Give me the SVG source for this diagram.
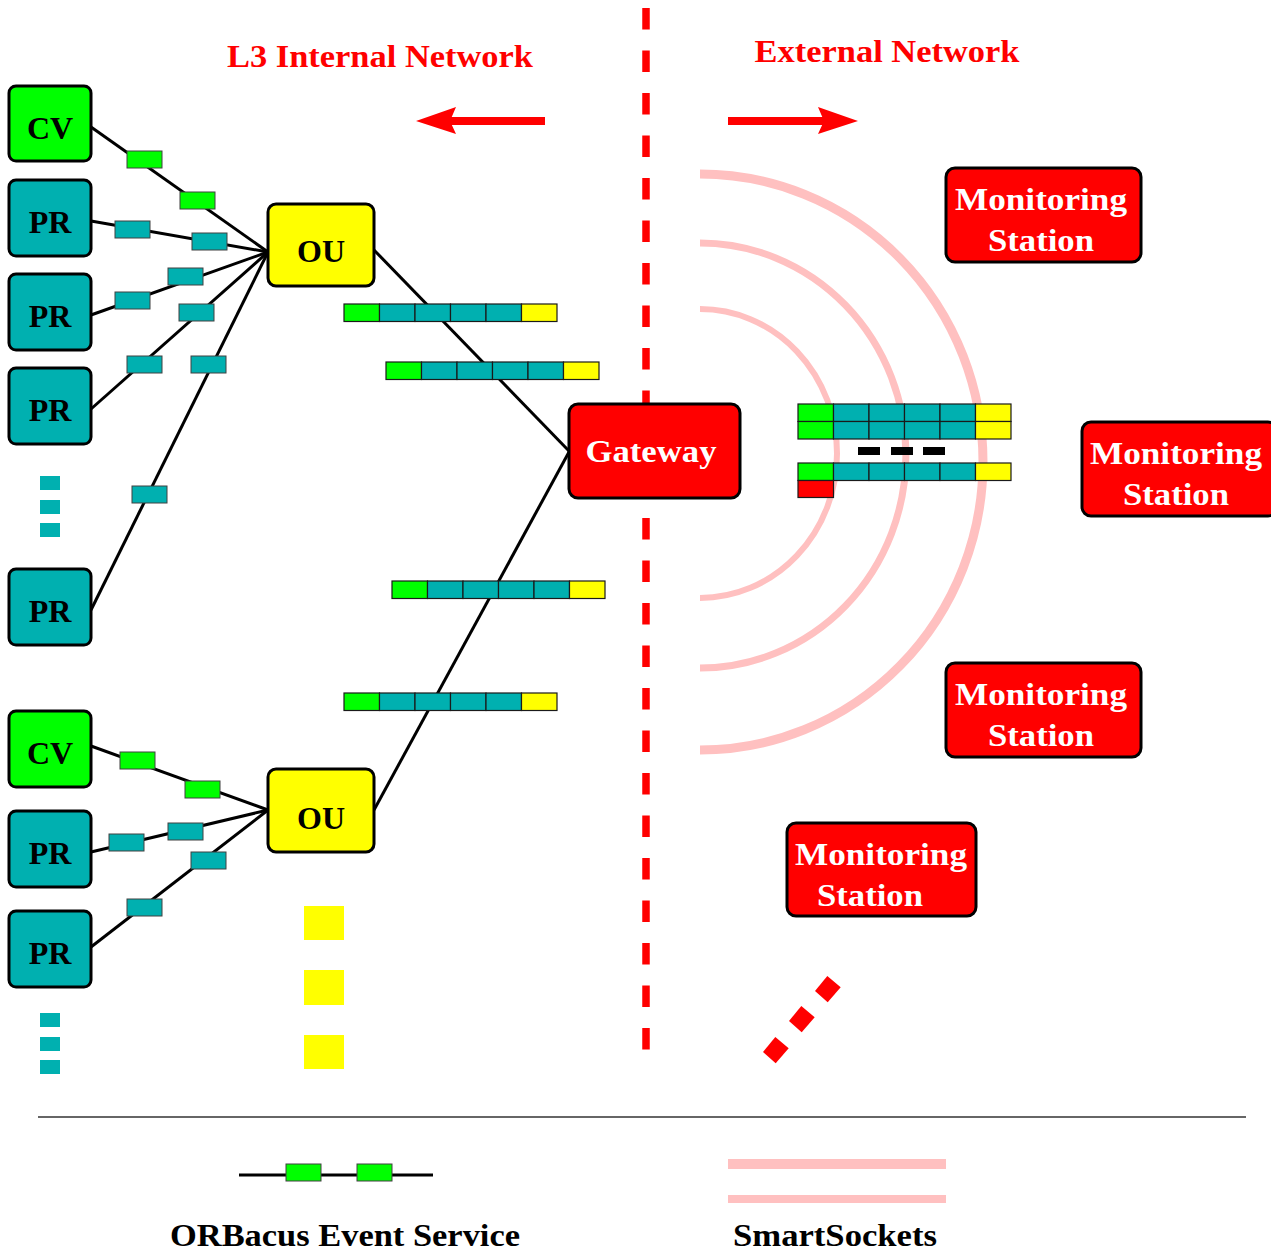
<svg xmlns="http://www.w3.org/2000/svg" xmlns:xlink="http://www.w3.org/1999/xlink" width="1271" height="1252" viewBox="0 0 1271 1252">
<style>
.box{stroke:#000;stroke-width:3}
.lbl{font-family:"Liberation Serif","Times New Roman",serif;font-weight:bold;font-size:32px;text-anchor:middle}
.wl{fill:#fff}
.bl{fill:#000}
.rl{fill:#ff0000}
.pk{stroke:#404040;stroke-width:1}
.cell{stroke:#1a1a1a;stroke-width:1.2}
.g{fill:#00ff00}.t{fill:#00b0b0}.y{fill:#ffff00}.r{fill:#ff0000}
.conn line{stroke:#000;stroke-width:3}
.arc{fill:none;stroke:#ffc0c0}
</style>
<defs>
<g id="bar">
<rect x="0" y="0" width="35.5" height="17.5" class="g cell"/>
<rect x="35.5" y="0" width="35.5" height="17.5" class="t cell"/>
<rect x="71" y="0" width="35.5" height="17.5" class="t cell"/>
<rect x="106.5" y="0" width="35.5" height="17.5" class="t cell"/>
<rect x="142" y="0" width="35.5" height="17.5" class="t cell"/>
<rect x="177.5" y="0" width="35.5" height="17.5" class="y cell"/>
</g>
<rect id="pg" width="35" height="17" class="g pk"/>
<rect id="pt" width="35" height="17" class="t pk"/>
<polygon id="dia" points="827.3,976 840.7,987.3 827.7,1002.3 815,991" fill="#ff0000"/>
</defs>
<rect width="1271" height="1252" fill="#fff"/>

<!-- SmartSockets arcs -->
<g id="arcs">
<path class="arc" stroke-width="9" d="M700,174 A283,288 0 0 1 700,750"/>
<path class="arc" stroke-width="7" d="M700,243 A206,212.5 0 0 1 700,668"/>
<path class="arc" stroke-width="6" d="M700,309 A137,144.5 0 0 1 700,598"/>
</g>

<!-- boundary -->
<line x1="646" y1="8" x2="646" y2="1050" stroke="#ff0000" stroke-width="7.5" stroke-dasharray="21.5 21"/>

<!-- titles and arrows -->
<text class="lbl rl" x="380" y="67" font-size="30" textLength="306" lengthAdjust="spacingAndGlyphs">L3 Internal Network</text>
<text class="lbl rl" x="887" y="62" font-size="30" textLength="265" lengthAdjust="spacingAndGlyphs">External Network</text>
<g id="arrows">
<line x1="545" y1="121" x2="448" y2="121" stroke="#ff0000" stroke-width="8"/>
<polygon points="416,121 456,107 450,121 456,134" fill="#ff0000"/>
<line x1="728" y1="121" x2="826" y2="121" stroke="#ff0000" stroke-width="8"/>
<polygon points="858,121 818,107 824,121 818,134" fill="#ff0000"/>
</g>

<!-- connectors -->
<g id="connectors" class="conn">
<line x1="91" y1="127" x2="268" y2="252"/>
<line x1="91" y1="221" x2="268" y2="252"/>
<line x1="91" y1="315" x2="268" y2="252"/>
<line x1="91" y1="409" x2="268" y2="252"/>
<line x1="91" y1="610" x2="268" y2="252"/>
<line x1="91" y1="746" x2="268" y2="810"/>
<line x1="91" y1="852" x2="268" y2="810"/>
<line x1="91" y1="947" x2="268" y2="810"/>
<line x1="374" y1="250" x2="569" y2="451"/>
<line x1="569" y1="452" x2="374" y2="810"/>
</g>

<!-- packets on connectors -->
<g id="packets">
<use xlink:href="#pg" x="127" y="151"/>
<use xlink:href="#pg" x="180" y="192"/>
<use xlink:href="#pt" x="115" y="221"/>
<use xlink:href="#pt" x="192" y="233"/>
<use xlink:href="#pt" x="115" y="292"/>
<use xlink:href="#pt" x="168" y="268"/>
<use xlink:href="#pt" x="179" y="304"/>
<use xlink:href="#pt" x="127" y="356"/>
<use xlink:href="#pt" x="191" y="356"/>
<use xlink:href="#pt" x="132" y="486"/>
<use xlink:href="#pg" x="120" y="752"/>
<use xlink:href="#pg" x="185" y="781"/>
<use xlink:href="#pt" x="109" y="834"/>
<use xlink:href="#pt" x="168" y="823"/>
<use xlink:href="#pt" x="127" y="899"/>
<use xlink:href="#pt" x="191" y="852"/>
</g>

<!-- message bars -->
<g id="bars">
<use xlink:href="#bar" x="344" y="304"/>
<use xlink:href="#bar" x="386" y="362"/>
<use xlink:href="#bar" x="392" y="581"/>
<use xlink:href="#bar" x="344" y="693"/>
<use xlink:href="#bar" x="798" y="404"/>
<use xlink:href="#bar" x="798" y="421.5"/>
<rect x="858" y="447" width="22" height="8" fill="#000"/>
<rect x="891" y="447" width="22" height="8" fill="#000"/>
<rect x="923" y="447" width="22" height="8" fill="#000"/>
<use xlink:href="#bar" x="798" y="463"/>
<rect x="798" y="480.5" width="35.5" height="17" class="r cell"/>
</g>

<!-- nodes -->
<g id="cv1"><rect x="9" y="86" width="82" height="75" rx="7" class="box g"/><text class="lbl bl" x="50" y="139">CV</text></g>
<g id="pr1"><rect x="9" y="180" width="82" height="76" rx="7" class="box t"/><text class="lbl bl" x="50" y="233">PR</text></g>
<g id="pr2"><rect x="9" y="274" width="82" height="76" rx="7" class="box t"/><text class="lbl bl" x="50" y="327">PR</text></g>
<g id="pr3"><rect x="9" y="368" width="82" height="76" rx="7" class="box t"/><text class="lbl bl" x="50" y="421">PR</text></g>
<g id="pr4"><rect x="9" y="569" width="82" height="76" rx="7" class="box t"/><text class="lbl bl" x="50" y="622">PR</text></g>
<g id="cv2"><rect x="9" y="711" width="82" height="76" rx="7" class="box g"/><text class="lbl bl" x="50" y="764">CV</text></g>
<g id="pr5"><rect x="9" y="811" width="82" height="76" rx="7" class="box t"/><text class="lbl bl" x="50" y="864">PR</text></g>
<g id="pr6"><rect x="9" y="911" width="82" height="76" rx="7" class="box t"/><text class="lbl bl" x="50" y="964">PR</text></g>
<g id="ou1"><rect x="268" y="204" width="106" height="82" rx="8" class="box y"/><text class="lbl bl" x="321" y="262">OU</text></g>
<g id="ou2"><rect x="268" y="769" width="106" height="83" rx="8" class="box y"/><text class="lbl bl" x="321" y="829">OU</text></g>
<g id="gateway"><rect x="569" y="404" width="171" height="94" rx="9" class="box r"/><text class="lbl wl" x="651" y="462" textLength="131" lengthAdjust="spacingAndGlyphs">Gateway</text></g>
<g id="ms1"><rect x="946" y="168" width="195" height="94" rx="9" class="box r"/><text class="lbl wl" x="1041" y="210" textLength="172" lengthAdjust="spacingAndGlyphs">Monitoring</text><text class="lbl wl" x="1041" y="251" textLength="106" lengthAdjust="spacingAndGlyphs">Station</text></g>
<g id="ms2"><rect x="1082" y="422" width="195" height="94" rx="9" class="box r"/><text class="lbl wl" x="1176" y="464" textLength="172" lengthAdjust="spacingAndGlyphs">Monitoring</text><text class="lbl wl" x="1176" y="505" textLength="106" lengthAdjust="spacingAndGlyphs">Station</text></g>
<g id="ms3"><rect x="946" y="663" width="195" height="94" rx="9" class="box r"/><text class="lbl wl" x="1041" y="705" textLength="172" lengthAdjust="spacingAndGlyphs">Monitoring</text><text class="lbl wl" x="1041" y="746" textLength="106" lengthAdjust="spacingAndGlyphs">Station</text></g>
<g id="ms4"><rect x="787" y="823" width="189" height="93" rx="9" class="box r"/><text class="lbl wl" x="881" y="865" textLength="172" lengthAdjust="spacingAndGlyphs">Monitoring</text><text class="lbl wl" x="870" y="906" textLength="106" lengthAdjust="spacingAndGlyphs">Station</text></g>

<!-- ellipses -->
<g id="ellipsis">
<rect x="40" y="476" width="20" height="14" fill="#00b0b0"/>
<rect x="40" y="500" width="20" height="14" fill="#00b0b0"/>
<rect x="40" y="523" width="20" height="14" fill="#00b0b0"/>
<rect x="40" y="1013" width="20" height="14" fill="#00b0b0"/>
<rect x="40" y="1037" width="20" height="14" fill="#00b0b0"/>
<rect x="40" y="1060" width="20" height="14" fill="#00b0b0"/>
<rect x="304" y="906" width="40" height="34" fill="#ffff00"/>
<rect x="304" y="970" width="40" height="35" fill="#ffff00"/>
<rect x="304" y="1035" width="40" height="34" fill="#ffff00"/>
<use xlink:href="#dia"/>
<use xlink:href="#dia" x="-26" y="30"/>
<use xlink:href="#dia" x="-52" y="61"/>
</g>

<!-- legend -->
<g id="legend">
<line x1="38" y1="1117" x2="1246" y2="1117" stroke="#333" stroke-width="1.5"/>
<line x1="239" y1="1175" x2="433" y2="1175" stroke="#000" stroke-width="3"/>
<use xlink:href="#pg" x="286" y="1164"/>
<use xlink:href="#pg" x="357" y="1164"/>
<line x1="728" y1="1164" x2="946" y2="1164" stroke="#ffc0c0" stroke-width="10"/>
<line x1="728" y1="1199" x2="946" y2="1199" stroke="#ffc0c0" stroke-width="8"/>
<text class="lbl bl" x="345" y="1246" font-size="30" textLength="350" lengthAdjust="spacingAndGlyphs">ORBacus Event Service</text>
<text class="lbl bl" x="835" y="1246" font-size="30" textLength="204" lengthAdjust="spacingAndGlyphs">SmartSockets</text>
</g>
</svg>
